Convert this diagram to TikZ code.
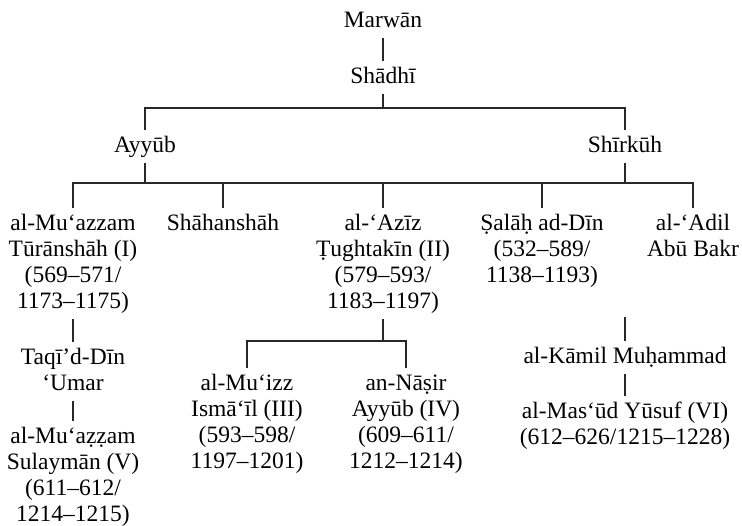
\documentclass[tikz,border=0pt]{standalone}
\usepackage{fontspec}
\setmainfont{Liberation Serif}
\usepackage{tikz}
\usetikzlibrary{positioning}
\definecolor{treeline}{RGB}{40,40,40}
\newcommand{\upstrut}{\rule{0pt}{11pt}}
\newcommand{\dnstrut}{\rule[-5pt]{0pt}{5pt}}

\begin{document}
\begin{tikzpicture}[
    x=0.5pt, y=-0.5pt,
    every node/.style={font=\fontsize{11.75}{13}\selectfont},
    person/.style={align=center, inner sep=0pt, anchor=north},
    link/.style={draw=treeline, line width=0.55pt}
]
\useasboundingbox (0,0) rectangle (742,525);

% top of the line
\node[person] (marwan) at (383,5) {\upstrut Marwān\dnstrut};
\node[person, below=11.5pt of marwan] (shadhi) {\upstrut Shādhī\dnstrut};
\node[person] (ayyub) at (145,130) {\upstrut Ayyūb\dnstrut};
\node[person] (shirkuh) at (625,130) {\upstrut Shīrkūh\dnstrut};

% sons
\node[person] (turanshah) at (73,208) {\upstrut al-Mu‘azzam\\Tūrānshāh (I)\\(569–571/\\1173–1175)\dnstrut};
\node[person] (shahanshah) at (223,208) {\upstrut Shāhanshāh\dnstrut};
\node[person] (aziz) at (383,208) {\upstrut al-‘Azīz\\Ṭughtakīn (II)\\(579–593/\\1183–1197)\dnstrut};
\node[person] (salah) at (542,208) {\upstrut Ṣalāḥ ad-Dīn\\(532–589/\\1138–1193)\dnstrut};
\node[person] (adil) at (693,208) {\upstrut al-‘Adil\\Abū Bakr\dnstrut};

% later generations
\node[person, below=11.5pt of turanshah] (taqi) {\upstrut Taqī’d-Dīn\\‘Umar\dnstrut};
\node[person, below=10pt of taqi] (sulayman) {\upstrut al-Mu‘aẓẓam\\Sulaymān (V)\\(611–612/\\1214–1215)\dnstrut};
\node[person] (muizz) at (247,368) {\upstrut al-Mu‘izz\\Ismā‘īl (III)\\(593–598/\\1197–1201)\dnstrut};
\node[person] (nasir) at (406,368) {\upstrut an-Nāṣir\\Ayyūb (IV)\\(609–611/\\1212–1214)\dnstrut};
\node[person] (kamil) at (625,341) {\upstrut al-Kāmil Muḥammad\dnstrut};
\node[person, below=11pt of kamil] (masud) {\upstrut al-Mas‘ūd Yūsuf (VI)\\(612–626/1215–1228)\dnstrut};

\coordinate (j1) at (383,108);
\coordinate (j2) at (383,183);
\coordinate (j3) at (383,341);
\coordinate (kamiltop) at (625,317);

\draw[link] (marwan) -- (shadhi);
\draw[link] (shadhi) -- (j1);
\draw[link] (ayyub) |- (j1) -| (shirkuh);

\draw[link] (ayyub) -- (ayyub |- j2);
\draw[link] (shirkuh) -- (shirkuh |- j2);
\draw[link] (turanshah) |- (j2) -| (adil);
\draw[link] (shahanshah) -- (shahanshah |- j2);
\draw[link] (aziz) -- (j2);
\draw[link] (salah) -- (salah |- j2);

\draw[link] (turanshah) -- (taqi);
\draw[link] (taqi) -- (sulayman);
\draw[link] (aziz) -- (j3);
\draw[link] (muizz) |- (j3) -| (nasir);
\draw[link] (kamiltop) -- (kamil);
\draw[link] (kamil) -- (masud);

\end{tikzpicture}
\end{document}
